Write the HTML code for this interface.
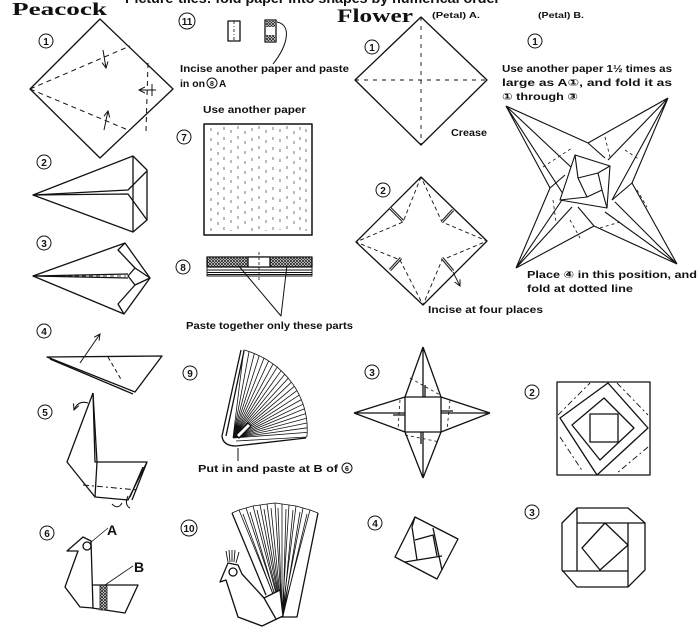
<!DOCTYPE html>
<html><head><meta charset="utf-8"><style>
html,body{margin:0;padding:0;background:#fff;}
svg{display:block;}
text{font-family:"Liberation Sans","DejaVu Sans",sans-serif;font-weight:bold;fill:#111;}
.t{font-size:10px;}
.s{font-size:8px;}
.ser{font-family:"Liberation Serif",serif;font-weight:bold;}
.n{font-size:10px;text-anchor:middle;}
</style></head><body>
<svg width="700" height="637" viewBox="0 0 700 637" xmlns="http://www.w3.org/2000/svg">
<defs>
<pattern id="h" width="3" height="3" patternUnits="userSpaceOnUse"><rect width="3" height="3" fill="#fff"/><path d="M0,0L3,3M3,0L0,3" stroke="#222" stroke-width="0.8"/></pattern>
<marker id="ar" markerWidth="8" markerHeight="8" refX="6" refY="4" orient="auto" markerUnits="userSpaceOnUse"><path d="M0,1L6,4L0,7" fill="none" stroke="#111" stroke-width="1"/></marker>
</defs>
<rect width="700" height="637" fill="#fff"/>

<!-- clipped header -->
<text x="125" y="3" font-size="14" textLength="375" lengthAdjust="spacingAndGlyphs">Picture-tiles: fold paper into shapes by numerical order</text>
<text class="ser" x="12" y="15" font-size="18" textLength="95" lengthAdjust="spacingAndGlyphs">Peacock</text>
<text class="ser" x="337" y="22" font-size="19" textLength="76" lengthAdjust="spacingAndGlyphs">Flower</text>
<text class="s" x="432" y="18" textLength="48" lengthAdjust="spacingAndGlyphs">(Petal) A.</text>
<text class="s" x="538" y="18" textLength="46" lengthAdjust="spacingAndGlyphs">(Petal) B.</text>

<g fill="none" stroke="#111" stroke-width="1.3" stroke-linejoin="round">
<!-- circled step numbers -->
<g stroke-width="1">
<circle cx="46" cy="41" r="7"/><circle cx="44" cy="162" r="7"/><circle cx="44" cy="243" r="7"/><circle cx="44" cy="331" r="7"/><circle cx="45" cy="412" r="7"/><circle cx="47" cy="533" r="7"/>
<circle cx="187" cy="21" r="8"/><circle cx="184" cy="137" r="7"/><circle cx="183" cy="267" r="7"/><circle cx="190" cy="373" r="7"/><circle cx="189" cy="528" r="8"/>
<circle cx="372" cy="47" r="7"/><circle cx="383" cy="190" r="7"/><circle cx="372" cy="372" r="7"/><circle cx="375" cy="523" r="7"/>
<circle cx="535" cy="41" r="7"/><circle cx="532" cy="392" r="7"/><circle cx="532" cy="512" r="7"/>
<circle cx="212" cy="83" r="5"/><circle cx="347" cy="468" r="5"/>
</g>

<!-- Peacock step 1 -->
<path d="M100,19L173,89L100,158L30,89Z"/>
<g stroke-dasharray="5,4" stroke-width="1">
<path d="M30,89L130,46"/><path d="M30,89L128,130"/><path d="M148,63L146,131"/>
</g>
<g stroke-width="1">
<path d="M103,50L106,68" marker-end="url(#ar)"/>
<path d="M104,130L108,111" marker-end="url(#ar)"/>
<path d="M156,90L139,90" marker-end="url(#ar)"/><path d="M152,84L152,96"/>
</g>

<!-- Peacock step 2 -->
<path d="M33,195L133,156L147,170L147,220L133,232Z"/>
<path d="M133,156L133,232"/><path d="M33,195L128,190L147,171"/><path d="M33,195L128,194L147,220"/>

<!-- Peacock step 3 -->
<path d="M33,276L125,243L150,278L124,314Z"/>
<path d="M125,243L118,250L135,268L128,276L135,285L118,304L124,314"/>
<path d="M135,268L150,278L135,285"/>
<path d="M33,276L128,274"/><path d="M33,276L128,278"/>
<path d="M40,276L126,276" stroke-dasharray="4,3" stroke-width="0.8"/>

<!-- Peacock step 4 -->
<path d="M47,357L162,356L135,392Z"/><path d="M50,359L133,394"/>
<path d="M108,357L122,381" stroke-dasharray="4,3" stroke-width="1"/>
<path d="M80,363L100,334" stroke-width="1" marker-end="url(#ar)"/>

<!-- Peacock step 5 -->
<path d="M93,393L67,462L95,497L128,500L147,462L95,462L93,393"/>
<path d="M93,393L97,462L95,497"/><path d="M147,462L132,500"/><path d="M143,467L130,497"/>
<path d="M83,485L138,490" stroke-dasharray="6,3,2,3" stroke-width="1"/>
<path d="M88,403Q78,400 74,410" stroke-width="1" marker-end="url(#ar)"/>
<path d="M112,504Q118,510 122,503" stroke-width="1"/><path d="M128,496Q124,505 130,508" stroke-width="1"/>

<!-- Peacock step 6 -->
<path d="M67,551L83,537L91,541L93,608L80,607L65,587L78,551Z"/>
<circle cx="87" cy="546" r="4" fill="#fff"/>
<path d="M92,585L138,585L125,613L92,608"/>
<rect x="100" y="585" width="7" height="25" fill="url(#h)" stroke-width="0.8"/>
<path d="M90,543L108,528" stroke-width="0.8"/><path d="M105,585L133,566" stroke-width="0.8"/>

<!-- step 11 -->
<rect x="228" y="21" width="12" height="20"/>
<path d="M234,21L234,41" stroke-dasharray="3,2,1,2" stroke-width="0.8"/>
<rect x="265" y="20" width="11" height="22"/>
<rect x="266" y="21" width="9" height="6" fill="url(#h)" stroke="none"/>
<rect x="266" y="35" width="9" height="6" fill="url(#h)" stroke="none"/>
<path d="M277,22C292,25 288,45 273,64" stroke-width="1"/>

<!-- step 7 paper -->
<rect x="204" y="124" width="108" height="111" stroke-width="1.5"/>
<g stroke-width="0.8" stroke="#555" stroke-dasharray="3,7">
<path d="M211,128V232M218,132V230M224,127V233M231,130V231M238,126V233M245,131V230M252,128V232M259,126V233M266,130V231M273,127V232M280,129V230M287,126V233M294,131V230M300,127V232M306,129V231"/>
</g>

<!-- step 8 -->
<rect x="207" y="257" width="105" height="10" fill="url(#h)"/>
<rect x="248" y="257" width="22" height="10" fill="#fff"/>
<path d="M259,252V282" stroke-dasharray="3,2" stroke-width="0.8"/>
<path d="M207,267V276H312V267M207,270H312M207,272.5H312M207,274.5H312" stroke-width="0.9"/>
<path d="M238,265L281,316L287,265" stroke-width="1"/>

<!-- step 9 fan -->
<g stroke-width="0.8">
<path d="M233,438L243.8,349.9M233,438L249.1,351.5M233,438L254.3,353.5M233,438L259.2,355.7M233,438L264,358.1M233,438L268.6,360.9M233,438L273.1,363.9M233,438L277.2,367.1M233,438L281.1,370.7M233,438L284.8,374.3M233,438L288.3,378.2M233,438L291.4,382.2M233,438L294.4,386.3M233,438L297,390.6M233,438L299.3,395.1M233,438L301.3,399.6M233,438L303.1,404.2M233,438L304.5,408.8M233,438L305.6,413.6M233,438L306.5,418.3M233,438L307,423M233,438L307.2,427.8M233,438L307.2,432.4M236,441L306.9,437"/>
<path d="M243.8,349.9L249.1,351.5L254.3,353.5L259.2,355.7L264,358.1L268.6,360.9L273.1,363.9L277.2,367.1L281.1,370.7L284.8,374.3L288.3,378.2L291.4,382.2L294.4,386.3L297,390.6L299.3,395.1L301.3,399.6L303.1,404.2L304.5,408.8L305.6,413.6L306.5,418.3L307,423L307.2,427.8L307.2,432.4L306.9,437"/>
</g>
<path d="M241,350L222,436Q223,446 236,446L306,438"/><path d="M244,351L226,436"/>
<path d="M236,435L248,423L251,426L239,438Z" fill="#fff"/>
<path d="M238,448V461" stroke-width="1"/>

<!-- step 10 peacock -->
<g stroke-width="0.8">
<path d="M232,513L239,510L246,508L253,506L260,505L267,504L275,503L282,504L289,505L296,506L303,508L310,510L318,513"/>
<path d="M239,510L282,616M246,508L282,616M253,506L282,616M260,505L282,616M267,504L282,616M275,503L282,616M282,504L282,616M289,505L282,616M296,506L282,616M303,508L282,616M310,510L282,616"/>
<path d="M243,514L281,616M250,512L281,616M257,510L282,616M264,509L282,616M271,508L282,616M278,508L282,616M286,509L283,616M293,510L283,616M300,512L283,616M307,514L283,616"/>
</g>
<path d="M232,513L266,595"/><path d="M318,513L297,617L280,617"/>
<path d="M226,551L228,562M229,550L230,562M232,550L232,562M235,550L234,562M239,552L236,563" stroke-width="0.9"/>
<path d="M220,582L228,563L238,565L242,574L264,598L280,590L283,616L262,626L238,617L226,580Z" fill="#fff"/>
<circle cx="233" cy="572" r="4" fill="#fff"/>
<path d="M264,598L276,619"/>

<!-- Petal A step 1 -->
<path d="M421,17L487,80L421,145L355,80Z"/>
<path d="M421,17V145M355,80H487" stroke-dasharray="4,5" stroke-width="0.9"/>

<!-- Petal A step 2 -->
<path d="M421,177L487,241L423,305L356,242Z"/>
<g stroke-dasharray="4,3" stroke-width="0.9">
<path d="M421,177L403,222L356,242L400,260L423,305L442,260L487,241L442,222Z"/>
</g>
<g stroke-width="3" stroke="#222">
<path d="M390,208L403,221"/><path d="M442,222L453,210"/><path d="M390,270L401,258"/><path d="M442,258L453,271"/>
</g>
<g stroke="#fff" stroke-width="0.8">
<path d="M390,208L403,221"/><path d="M442,222L453,210"/><path d="M390,270L401,258"/><path d="M442,258L453,271"/>
</g>
<path d="M453,272L460,286" stroke-width="0.9" marker-end="url(#ar)"/>

<!-- Petal A step 3 -->
<rect x="405" y="397" width="36" height="35"/>
<path d="M423,347L405,397M423,347L441,397M423,347L423,397M425,385V397"/>
<path d="M354,413L405,397M354,413L405,432M354,413L405,413M393,415H405"/>
<path d="M490,413L441,397M490,413L441,432M490,413L441,413M441,411H453"/>
<path d="M423,478L405,432M423,478L441,432M423,478L423,432M421,432V444"/>
<g stroke-dasharray="3,3" stroke-width="0.8">
<path d="M410,378L440,395M400,400L398,430M450,400L447,430M405,435L440,442"/>
</g>

<!-- Petal A step 4 -->
<path d="M415,517L458,539L437,579L395,557Z"/>
<path d="M412,527L417,560M405,562L442,556M415,540L433,535L437,556M433,528L442,570M415,517L412,527"/>

<!-- Petal B step 1 star -->
<g stroke-width="1.1">
<path d="M506,106L588,143M506,106L572,168M506,106L550,188M506,106L567,200"/>
<path d="M668,98L588,143M668,98L608,160M668,98L632,183M668,98L612,200"/>
<path d="M677,264L632,183M677,264L615,202M677,264L594,226M677,264L605,212"/>
<path d="M516,268L594,226M516,268L550,188M516,268L572,207M516,268L562,200"/>
<path d="M575,155L610,166L607,208L560,200Z" fill="#fff"/>
<path d="M578,178L598,173L602,190L587,197Z"/>
<path d="M575,155L578,178M610,166L598,173M607,208L602,190M560,200L587,197"/>
<path d="M588,143L605,158M632,183L612,200M594,226L578,207M550,188L565,175"/>
</g>
<g stroke-dasharray="3,3" stroke-width="0.8">
<path d="M543,167L572,148M605,137L610,157M637,190L647,207M600,228L620,222M553,200L556,222M625,150L640,160M570,220L580,238"/>
</g>

<!-- Petal B step 2 -->
<rect x="557" y="382" width="93" height="93"/>
<path d="M608,383L648,428L597,475L560,418Z"/>
<path d="M604,398L634,428L600,460L572,425Z"/>
<rect x="590" y="414" width="28" height="28"/>
<g stroke-dasharray="6,3,2,3" stroke-width="0.9">
<path d="M558,415L590,383M617,383L648,415M648,447L617,473M560,437L583,472"/>
</g>

<!-- Petal B step 3 -->
<path d="M577,508L628,508L645,523L645,570L628,587L577,587L562,570L562,523Z"/>
<path d="M577,508V571M577,523H645M628,523V587M562,571H628"/>
<path d="M605,523L628,545L600,570L582,548Z"/>
</g>

<!-- step numbers text -->
<g class="n">
<text class="n" x="46" y="45">1</text><text class="n" x="44" y="166">2</text><text class="n" x="44" y="247">3</text><text class="n" x="44" y="335">4</text><text class="n" x="45" y="416">5</text><text class="n" x="47" y="537">6</text>
<text class="n" x="187" y="25">11</text><text class="n" x="184" y="141">7</text><text class="n" x="183" y="271">8</text><text class="n" x="190" y="377">9</text><text class="n" x="189" y="532">10</text>
<text class="n" x="372" y="51">1</text><text class="n" x="383" y="194">2</text><text class="n" x="372" y="376">3</text><text class="n" x="375" y="527">4</text>
<text class="n" x="535" y="45">1</text><text class="n" x="532" y="396">2</text><text class="n" x="532" y="516">3</text>
<text x="212" y="86" font-size="7" text-anchor="middle">8</text><text x="347" y="471" font-size="7" text-anchor="middle">6</text>
</g>

<!-- labels -->
<text class="t" x="180" y="72" textLength="169" lengthAdjust="spacingAndGlyphs">Incise another paper and paste</text>
<text class="t" x="180" y="87" textLength="25" lengthAdjust="spacingAndGlyphs">in on</text>
<text class="t" x="219" y="87">A</text>
<text class="t" x="203" y="113" textLength="103" lengthAdjust="spacingAndGlyphs">Use another paper</text>
<text class="t" x="186" y="329" textLength="167" lengthAdjust="spacingAndGlyphs">Paste together only these parts</text>
<text class="t" x="198" y="472" textLength="140" lengthAdjust="spacingAndGlyphs">Put in and paste at B of</text>
<text x="107" y="535" font-size="14">A</text>
<text x="134" y="572" font-size="14">B</text>
<text class="t" x="451" y="136" textLength="36" lengthAdjust="spacingAndGlyphs">Crease</text>
<text class="t" x="502" y="72" textLength="170" lengthAdjust="spacingAndGlyphs">Use another paper 1½ times as</text>
<text class="t" x="502" y="86" textLength="170" lengthAdjust="spacingAndGlyphs">large as A①, and fold it as</text>
<text class="t" x="502" y="100" textLength="76" lengthAdjust="spacingAndGlyphs">① through ③</text>
<text class="t" x="527" y="278" textLength="170" lengthAdjust="spacingAndGlyphs">Place ④ in this position, and</text>
<text class="t" x="527" y="292" textLength="106" lengthAdjust="spacingAndGlyphs">fold at dotted line</text>
<text class="t" x="428" y="313" textLength="115" lengthAdjust="spacingAndGlyphs">Incise at four places</text>
</svg>
</body></html>
